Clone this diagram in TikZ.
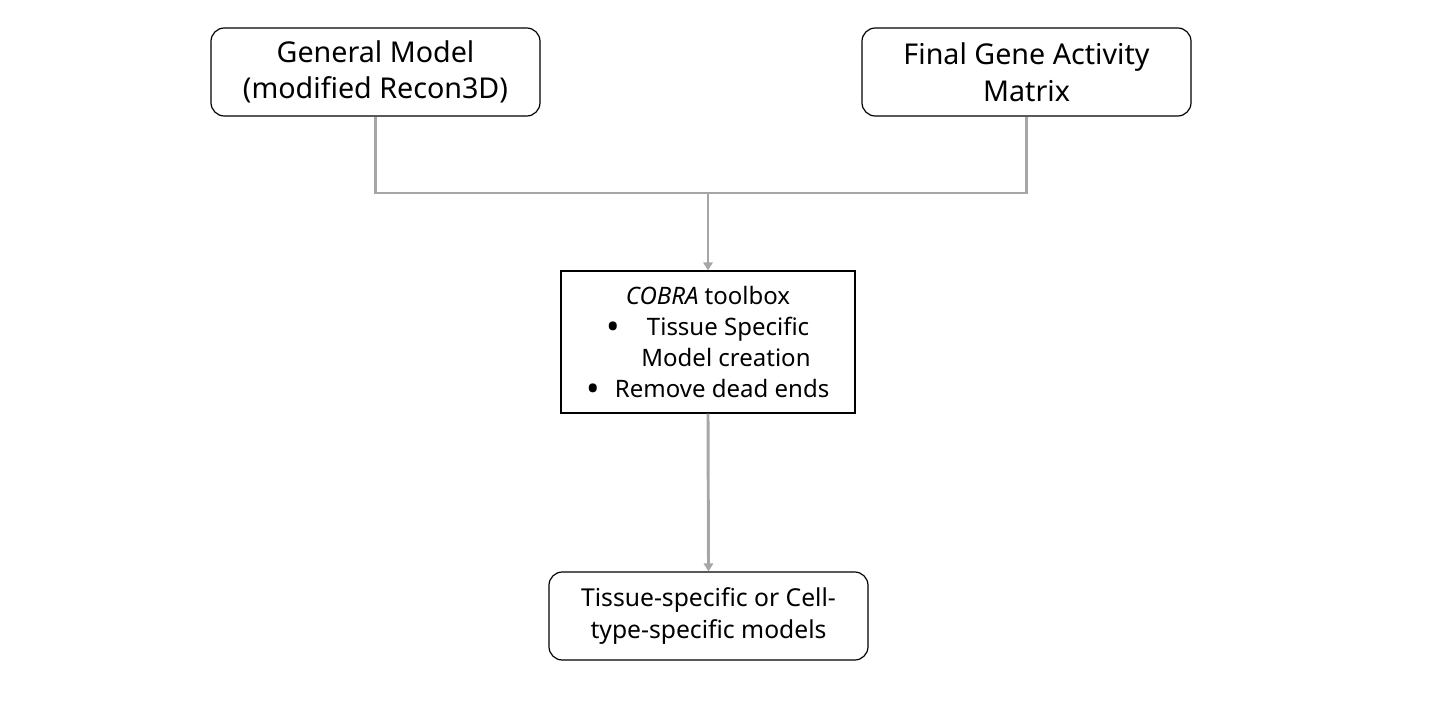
\documentclass[tikz,border=0pt]{standalone}
\usepackage{fontspec}
\setmainfont{Noto Sans}
\usetikzlibrary{arrows.meta}
\definecolor{linegray}{HTML}{A6A6A6}
\newcommand{\bigbul}{\raisebox{-0.17em}[0pt][0pt]{\scalebox{1.5}{\textbullet}}}
\tikzset{
  rbox/.style={draw=black, line width=0.9pt, rounded corners=10pt, fill=white, inner sep=0pt},
  sbox/.style={draw=black, line width=0.9pt, fill=white, inner sep=0pt},
  conn/.style={draw=linegray, line width=2.2pt},
  arr/.style={conn, -{Triangle[width=7pt,length=6pt]}}
}
\begin{document}
\begin{tikzpicture}[x=0.75pt,y=-0.75pt]
\useasboundingbox (0,0) rectangle (1438,718);
\node[rbox, minimum width=329*0.75pt, minimum height=88*0.75pt, align=center, font=\fontsize{21.5}{27.5}\selectfont] (gm) at (375.5,72) {General Model\\(modified Recon3D)};
\node[rbox, minimum width=329*0.75pt, minimum height=88*0.75pt, align=center, font=\fontsize{21.5}{27.5}\selectfont] (fg) at (1026.5,72) {Final Gene Activity\\Matrix};
\node[sbox, minimum width=294*0.75pt, minimum height=142*0.75pt, align=center, font=\fontsize{18}{23.2}\selectfont] (cb) at (708,342) {\textit{COBRA} toolbox\\\bigbul\hspace{20pt}Tissue Specific\\\hspace{27pt}Model creation\\\bigbul\hspace{11pt}Remove dead ends};
\node[rbox, minimum width=319*0.75pt, minimum height=88*0.75pt, align=center, font=\fontsize{18.5}{24}\selectfont] (out) at (708.5,616) {Tissue-specific or Cell-\\type-specific models};
\coordinate (j) at (708,193);
\draw[conn] (gm.south) |- (j) -| (fg.south);
\draw[arr] (j) -- (cb.north);
\draw[arr] (cb.south) -- (out.north);
\end{tikzpicture}
\end{document}
